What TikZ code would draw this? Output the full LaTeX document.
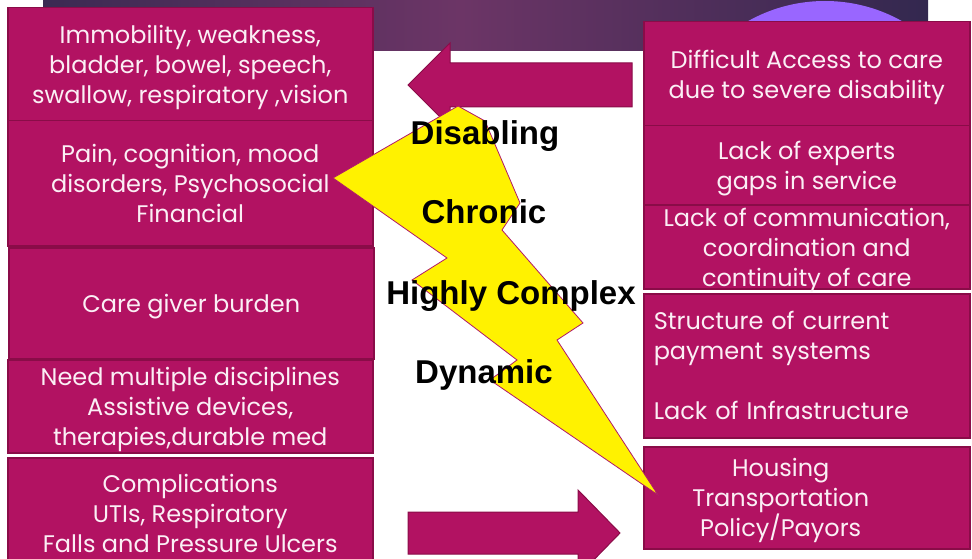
\documentclass[tikz,border=0pt]{standalone}
\usepackage{fontspec}
\setmainfont{Poppins}
\newfontfamily\labelfont{Liberation Sans}

\definecolor{boxmag}{HTML}{B21262}
\definecolor{boxedge}{HTML}{8A0C48}
\definecolor{boxtext}{HTML}{FBEFF5}
\definecolor{bannerdark}{HTML}{33284F}
\definecolor{bannerlight}{HTML}{6C3566}
\definecolor{disc}{HTML}{9966FF}
\definecolor{boltedge}{HTML}{B0186A}

\begin{document}
\begin{tikzpicture}[x=1pt, y=-1pt,
  % rows=<text height>: 30pt per extra line + 19pt, keeps the baselines even
  issue/.style={draw=boxedge, line width=1.5pt, fill=boxmag, text=boxtext,
    align=center, inner sep=0pt, anchor=north west, text depth=0pt,
    font=\fontsize{24}{30}\selectfont},
  rows/.style={text height=#1},
  tag/.style={font=\labelfont\bfseries\fontsize{33}{38}\selectfont, anchor=base}]
  \useasboundingbox (0,0) rectangle (972,559);
  \clip (0,0) rectangle (972,559);

  % banner along the top, with the disc behind the right column
  \shade[left color=bannerdark!85!bannerlight, right color=bannerlight] (43,0) rectangle (460,51);
  \shade[left color=bannerlight, right color=bannerdark] (460,0) rectangle (928,51);
  \begin{scope}
    \clip (43,0) rectangle (928,51);
    \fill[disc] (825,158) circle (157);
  \end{scope}

  % left column
  \node[issue, rows=79pt, minimum width=365pt, minimum height=113pt] (immob) at (7,7)
    {Immobility, weakness,\\bladder, bowel, speech,\\swallow, respiratory ,vision};
  \node[issue, rows=79pt, minimum width=365pt, minimum height=125pt] (pain) at (7,120)
    {Pain, cognition, mood\\disorders, Psychosocial\\Financial};
  \node[issue, rows=19pt, minimum width=365pt, minimum height=111pt] (burden) at (8,247)
    {Care giver burden};
  \node[issue, rows=79pt, minimum width=365pt, minimum height=93pt] (discip) at (7,359)
    {Need multiple disciplines\\Assistive devices,\\therapies,durable med};
  \node[issue, rows=79pt, minimum width=365pt, minimum height=110pt] (compl) at (7,457)
    {Complications\\UTIs, Respiratory\\Falls and Pressure Ulcers};

  % right column
  \node[issue, rows=49pt, minimum width=326pt, minimum height=104pt] (access) at (643,21)
    {Difficult Access to care\\due to severe disability};
  \node[issue, rows=49pt, minimum width=326pt, minimum height=79pt] (experts) at (643,125)
    {Lack of experts\\gaps in service};
  \node[issue, rows=79pt, minimum width=326pt, minimum height=84pt] (commun) at (643,204)
    {Lack of communication,\\coordination and\\continuity of care};
  % text width hangs the lines from the first baseline
  \node[issue, text height=0pt, text depth=72pt, minimum width=326pt, minimum height=144pt,
    align=left, text width=306pt] (payment) at (643,293)
    {Structure of current\\payment systems\\[30pt]Lack of Infrastructure};
  \node[issue, text height=0pt, text depth=42pt, minimum width=326pt, minimum height=102pt,
    align=left, text width=306pt] (housing) at (643,446)
    {\leftskip=0pt plus 1fil \rightskip=52pt plus 1fil \parfillskip=0pt
     Housing\\Transportation\\Policy/Payors\par};

  % block arrows
  \draw[boxedge, fill=boxmag, line width=1pt]
    (632,63) -- (450,63) -- (450,43) -- (408,85) -- (450,127) -- (450,107) -- (632,107) -- cycle;
  \draw[boxedge, fill=boxmag, line width=1pt]
    (408,512) -- (578,512) -- (578,490) -- (620,533) -- (578,576) -- (578,554) -- (408,554) -- cycle;

  % lightning bolt
  \draw[boltedge, fill=yellow, line width=0.8pt]
    (333,178) -- (458,106) -- (485,121) -- (520,203) -- (502,230) -- (583,323)
    -- (557,340) -- (658,495) -- (490,380) -- (517,360) -- (412,280) -- (447,258) -- cycle;

  \node[tag] (disab) at (485,145) {Disabling};
  \node[tag] (chron) at (484,223) {Chronic};
  \node[tag] (cplx) at (511,304) {Highly Complex};
  \node[tag] (dyn) at (484,383) {Dynamic};
\end{tikzpicture}
\end{document}
